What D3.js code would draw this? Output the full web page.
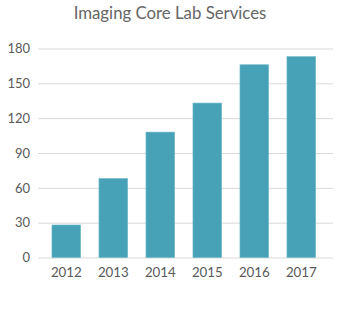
<!DOCTYPE html>
<html><head><meta charset="utf-8">
<script src="https://cdn.jsdelivr.net/npm/d3@7"></script>
<style>body{margin:0;background:#fff;}svg{display:block;}</style>
</head><body>
<script>
const categories = ["2012","2013","2014","2015","2016","2017"];
const values = [28, 68, 108, 133, 166, 173];
const yTicks = [0, 30, 60, 90, 120, 150, 180];
const title = "Imaging Core Lab Services";

const W = 340, H = 336;
const svg = d3.select("body").append("svg").attr("width", W).attr("height", H);
const font = "'Source Sans Pro', Lato, 'Open Sans', sans-serif";

const y = d3.scaleLinear().domain([0, 180]).range([257.5, 48.5]);
const x = d3.scaleBand().domain(categories).range([42.8, 324.8]).paddingInner(0.39).paddingOuter(0.195);

svg.append("text").attr("x", 170).attr("y", 19).attr("text-anchor", "middle")
  .attr("font-family", font).attr("font-size", 16.8).attr("fill", "#666").text(title);

const yAxis = svg.append("g").attr("transform", "translate(38,0)")
  .call(d3.axisLeft(y).tickValues(yTicks).tickSize(-295).tickPadding(8).tickFormat(d3.format("d")));
yAxis.select(".domain").remove();
yAxis.selectAll(".tick line").attr("stroke", "#d9d9d9").attr("stroke-width", 1);
yAxis.selectAll(".tick text").attr("font-family", font).attr("font-size", 13).attr("fill", "#595959");

svg.selectAll("rect.bar").data(values).join("rect").attr("class", "bar")
  .attr("x", (d, i) => x(categories[i])).attr("width", x.bandwidth())
  .attr("y", d => y(d)).attr("height", d => y(0) - y(d))
  .attr("fill", "#48a2b7").attr("stroke", "#6bb8c9").attr("stroke-width", 0.6);

const xAxis = svg.append("g").attr("transform", "translate(0,257.5)")
  .call(d3.axisBottom(x).tickSize(0).tickPadding(10));
xAxis.select(".domain").remove();
xAxis.selectAll(".tick text").attr("font-family", font).attr("font-size", 13.3).attr("fill", "#595959");
</script>
</body></html>
